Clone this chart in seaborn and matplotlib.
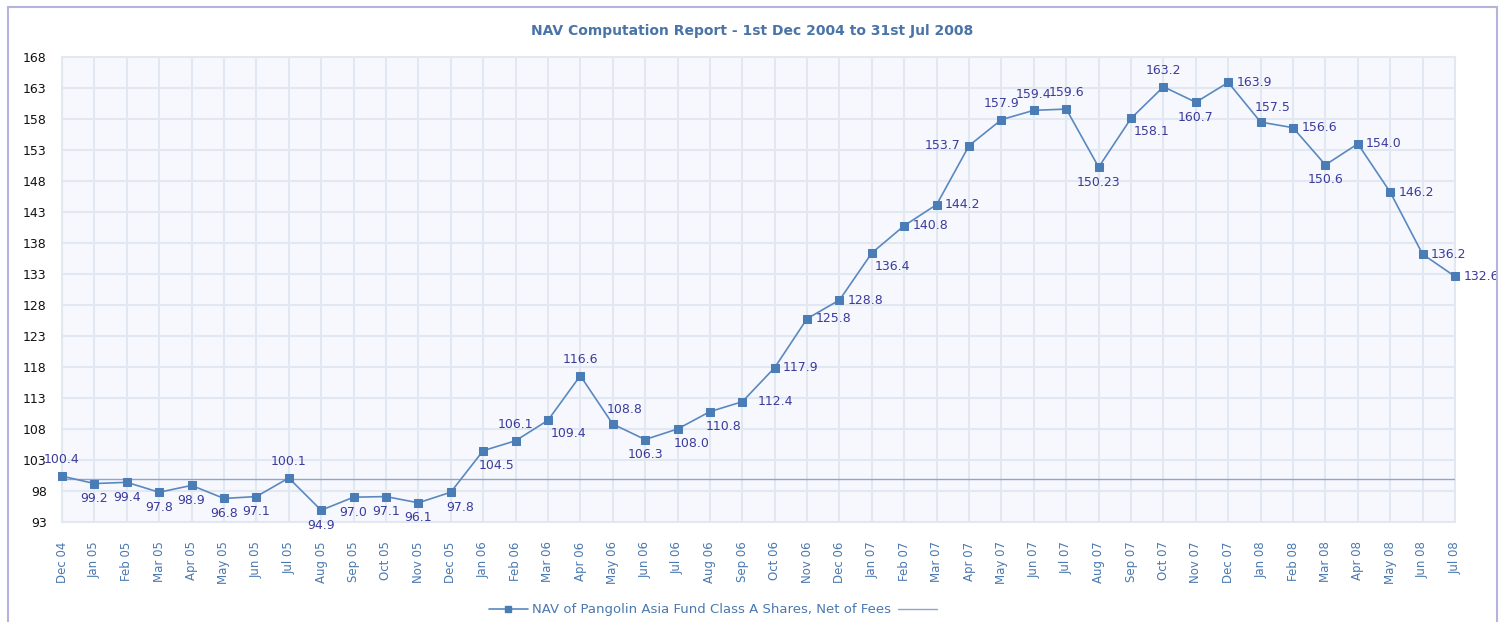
import numpy as np
import pandas as pd
import matplotlib
matplotlib.use('Agg')
import matplotlib.pyplot as plt
import seaborn as sns
from matplotlib.lines import Line2D
from matplotlib.patches import Rectangle

# datos del grafico
meses = ['Dec 04', 'Jan 05', 'Feb 05', 'Mar 05', 'Apr 05', 'May 05', 'Jun 05', 'Jul 05',
         'Aug 05', 'Sep 05', 'Oct 05', 'Nov 05', 'Dec 05', 'Jan 06', 'Feb 06', 'Mar 06',
         'Apr 06', 'May 06', 'Jun 06', 'Jul 06', 'Aug 06', 'Sep 06', 'Oct 06', 'Nov 06',
         'Dec 06', 'Jan 07', 'Feb 07', 'Mar 07', 'Apr 07', 'May 07', 'Jun 07', 'Jul 07',
         'Aug 07', 'Sep 07', 'Oct 07', 'Nov 07', 'Dec 07', 'Jan 08', 'Feb 08', 'Mar 08',
         'Apr 08', 'May 08', 'Jun 08', 'Jul 08']
nav = [100.4, 99.2, 99.4, 97.8, 98.9, 96.8, 97.1, 100.1,
       94.9, 97.0, 97.1, 96.1, 97.8, 104.5, 106.1, 109.4,
       116.6, 108.8, 106.3, 108.0, 110.8, 112.4, 117.9, 125.8,
       128.8, 136.4, 140.8, 144.2, 153.7, 157.9, 159.4, 159.6,
       150.23, 158.1, 163.2, 160.7, 163.9, 157.5, 156.6, 150.6,
       154.0, 146.2, 136.2, 132.6]
etiquetas = ['100.4', '99.2', '99.4', '97.8', '98.9', '96.8', '97.1', '100.1',
             '94.9', '97.0', '97.1', '96.1', '97.8', '104.5', '106.1', '109.4',
             '116.6', '108.8', '106.3', '108.0', '110.8', '112.4', '117.9', '125.8',
             '128.8', '136.4', '140.8', '144.2', '153.7', '157.9', '159.4', '159.6',
             '150.23', '158.1', '163.2', '160.7', '163.9', '157.5', '156.6', '150.6',
             '154.0', '146.2', '136.2', '132.6']
referencia = 100
yticks = list(range(93, 169, 5))

# donde va cada etiqueta (a=arriba, b=abajo, r=derecha, l=izquierda)
posicion = ['a', 'b', 'b', 'b', 'b', 'b', 'b', 'a',
            'b', 'b', 'b', 'b', 'bs', 'bs', 'a', 'br',
            'a', 'as', 'b', 'bs', 'bs', 'R', 'r', 'r',
            'r', 'br', 'r', 'r', 'l', 'a', 'a', 'a',
            'b', 'br', 'a', 'b', 'r', 'as', 'r', 'b',
            'r', 'r', 'r', 'r']
offsets = {'a': (0, 7, 'center', 'bottom'), 'b': (0, -6, 'center', 'top'),
           'r': (6, 0, 'left', 'center'), 'R': (11, 0, 'left', 'center'),
           'l': (-6, 0, 'right', 'center'),
           'as': (-4, 6, 'left', 'bottom'), 'bs': (-3, -6, 'left', 'top'),
           'br': (2, -5, 'left', 'top')}

df = pd.DataFrame({'x': np.arange(len(meses)), 'nav': nav})

sns.set_style('white')
plt.rcParams['font.family'] = ['DejaVu Sans']

fig = plt.figure(figsize=(15.05, 6.22), dpi=100)
ax = fig.add_axes([62 / 1505, 1 - 522 / 622, (1455 - 62) / 1505, (522 - 57) / 622])
ax.set_facecolor('#f6f8fd')

color_linea = '#5a88c0'
sns.lineplot(data=df, x='x', y='nav', ax=ax, color=color_linea, linewidth=1.2,
             marker='s', markersize=5.2, markerfacecolor='#4a7db6', markeredgecolor='#4a7db6',
             clip_on=False, zorder=4)
ax.axhline(referencia, color='#8da6cc', linewidth=1.0, zorder=3)

for i, (v, t) in enumerate(zip(nav, etiquetas)):
    dx, dy, ha, va = offsets[posicion[i]]
    ax.annotate(t, (i, v), xytext=(dx, dy), textcoords='offset points',
                ha=ha, va=va, fontsize=9, color='#3b3b9c', zorder=5)

ax.set_xlim(0, len(meses) - 1)
ax.set_ylim(93, 168)
ax.set_xticks(range(len(meses)))
ax.set_xticklabels(meses, rotation=90, fontsize=8.5, color='#4a78b0')
ax.set_yticks(yticks)
ax.set_yticklabels([str(y) for y in yticks], fontsize=9, color='#111111')
ax.tick_params(axis='both', length=0, pad=11)
ax.tick_params(axis='x', pad=14)
ax.grid(True, color='#e1e8f2', linewidth=1.5)
for s in ax.spines.values():
    s.set_color('#e1e8f2')
    s.set_linewidth(1.5)
ax.set_xlabel('')
ax.set_ylabel('')

fig.text(752 / 1505, 1 - 31 / 622, 'NAV Computation Report - 1st Dec 2004 to 31st Jul 2008',
         ha='center', va='center', fontsize=10, fontweight='bold', color='#4a74a8')

# marco exterior
fig.patches.append(Rectangle((8 / 1505, -0.05), (1497 - 8) / 1505, 1.05 - 7 / 622,
                             transform=fig.transFigure, fill=False,
                             edgecolor='#b4b4dc', linewidth=1.5))

handles = [Line2D([], [], color=color_linea, marker='s', markersize=5,
                  markerfacecolor='#4a7db6', markeredgecolor='#4a7db6', linewidth=1.2),
           Line2D([], [], color='#8da6cc', linewidth=1.0)]
fig.legend(handles, ['NAV of Pangolin Asia Fund Class A Shares, Net of Fees', ''],
           loc='center', bbox_to_anchor=(715 / 1505, 1 - 610 / 622), ncol=2,
           frameon=False, fontsize=9.5, labelcolor='#4a78b0', handlelength=3,
           columnspacing=0.5, handletextpad=0.3)

plt.savefig('out.png', dpi=100)
